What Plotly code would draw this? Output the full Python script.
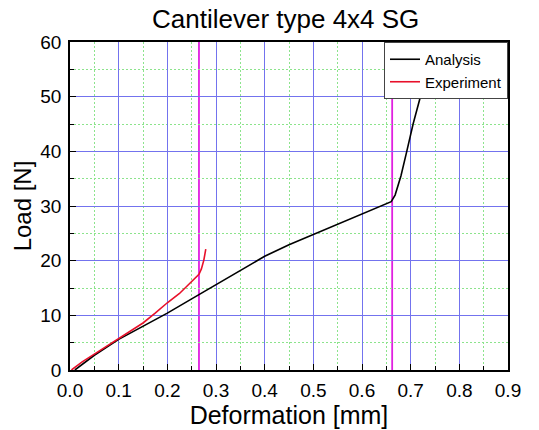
import plotly.graph_objects as go

analysis_x = [0.01, 0.05, 0.10, 0.15, 0.20, 0.25, 0.30, 0.35, 0.40, 0.45, 0.50, 0.55, 0.60, 0.66, 0.668, 0.68, 0.692, 0.705, 0.72, 0.735, 0.75]
analysis_y = [0.0, 2.7, 5.6, 8.0, 10.4, 13.0, 15.6, 18.3, 20.8, 22.9, 24.8, 26.6, 28.6, 30.8, 32.0, 35.5, 40.0, 45.0, 50.0, 55.0, 60.0]

experiment_x = [0.003, 0.025, 0.05, 0.075, 0.10, 0.125, 0.15, 0.175, 0.20, 0.225, 0.24, 0.255, 0.265, 0.270, 0.275, 0.279]
experiment_y = [0.0, 1.5, 2.9, 4.3, 5.7, 7.1, 8.6, 10.4, 12.3, 14.0, 15.3, 16.6, 17.5, 18.5, 20.1, 22.1]

marker_lines_x = [0.265, 0.662]

x_ticks = [0.0, 0.1, 0.2, 0.3, 0.4, 0.5, 0.6, 0.7, 0.8, 0.9]
y_ticks = [0, 10, 20, 30, 40, 50, 60]

font = "Liberation Sans, Arial, sans-serif"

fig = go.Figure()
fig.add_trace(go.Scatter(x=analysis_x, y=analysis_y, mode="lines", name="Analysis",
                         line=dict(color="black", width=1.6)))
fig.add_trace(go.Scatter(x=experiment_x, y=experiment_y, mode="lines", name="Experiment",
                         line=dict(color="#e8102a", width=1.6)))

for xv in marker_lines_x:
    fig.add_shape(type="line", xref="x", yref="paper", x0=xv, x1=xv, y0=0, y1=1,
                  line=dict(color="#e020e0", width=1.8), layer="between")

axis_common = dict(
    showline=True, mirror=True, linecolor="black", linewidth=1.5,
    ticks="inside", ticklen=6, tickcolor="black", tickwidth=1.2,
    showgrid=True, gridcolor="rgb(115,115,238)", gridwidth=1.2,
    zeroline=False,
    tickfont=dict(family=font, size=19, color="black"),
)
minor_common = dict(showgrid=True, gridcolor="rgb(140,228,140)", griddash="2px,2px",
                    gridwidth=1, ticks="inside", ticklen=4, tickcolor="black")

fig.update_xaxes(
    range=[0, 0.9], tickvals=x_ticks, tickformat=".1f", ticklabelstandoff=2,
    title=dict(text="Deformation [mm]", font=dict(family=font, size=25, color="black"), standoff=0),
    minor=dict(dtick=0.05, tick0=0, **minor_common),
    **axis_common,
)
fig.update_yaxes(
    range=[0, 60], tickvals=y_ticks, ticklabelstandoff=3,
    title=dict(text="Load [N]", font=dict(family=font, size=24, color="black"), standoff=2),
    minor=dict(dtick=5, tick0=0, **minor_common),
    **axis_common,
)

fig.update_layout(
    width=539, height=430,
    margin=dict(l=70, r=31, t=42, b=57),
    paper_bgcolor="white", plot_bgcolor="white",
    title=dict(text="Cantilever type 4x4 SG", x=0.53, xanchor="center", y=0.955, yanchor="middle",
               font=dict(family=font, size=26, color="black")),
    legend=dict(x=1, y=1, xanchor="right", yanchor="top", bgcolor="white",
                bordercolor="#444444", borderwidth=1,
                font=dict(family=font, size=15, color="black"),
                tracegroupgap=0, itemwidth=30),
    showlegend=True,
)

fig.write_html("out.html", config={"displayModeBar": False},
               post_script="document.body.style.margin='0';document.body.style.overflow='hidden';")
